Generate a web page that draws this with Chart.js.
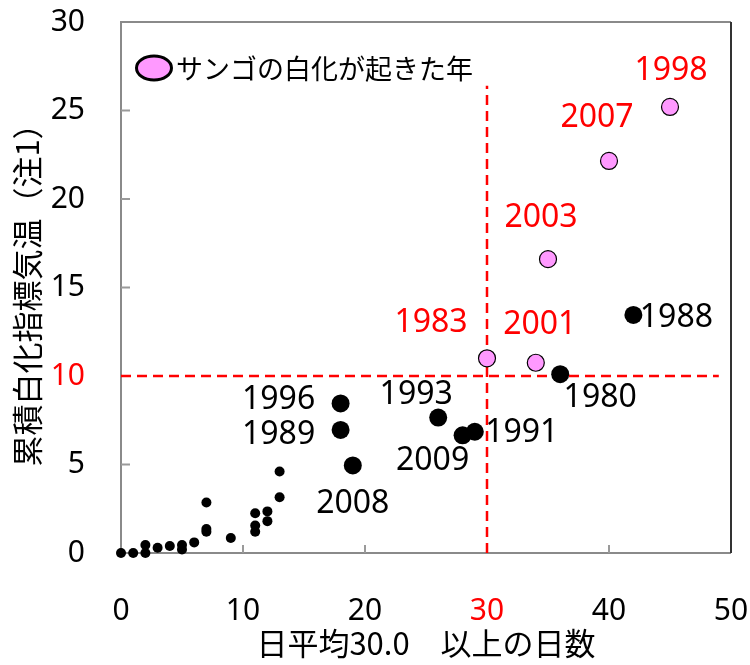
<!DOCTYPE html>
<html>
<head>
<meta charset="utf-8">
<script src="https://cdn.jsdelivr.net/npm/chart.js@4"></script>
<style>
html,body{margin:0;padding:0;background:#fff;}
</style>
</head>
<body>
<canvas id="c" width="750" height="665"></canvas>
<script>
// small black dots (no year label)
const smallX = [0, 1, 2, 2, 3, 4, 5, 5, 6, 7, 7, 7, 9, 11, 11, 11, 12, 12, 13, 13];
const smallY = [0, 0, 0, 0.45, 0.3, 0.4, 0.45, 0.2, 0.6, 1.35, 1.2, 2.85, 0.85, 2.25, 1.55, 1.2, 2.35, 1.8, 3.15, 4.6];

// labelled years without bleaching
const blackYears = ['1980', '1988', '1989', '1991', '1993', '1996', '2008', '2009'];
const blackX = [36, 42, 18, 29, 26, 18, 19, 28];
const blackY = [10.1, 13.45, 6.95, 6.85, 7.65, 8.45, 4.95, 6.65];

// years when coral bleaching happened
const pinkYears = ['1983', '1998', '2001', '2003', '2007'];
const pinkX = [30, 45, 34, 35, 40];
const pinkY = [11.0, 25.2, 10.75, 16.6, 22.15];

const thresholdX = 30;
const thresholdY = 10;
const xTicks = [0, 10, 20, 30, 40, 50];
const yTicks = [0, 5, 10, 15, 20, 25, 30];

const legendText = 'サンゴの白化が起きた年';
const xTitle = '日平均30.0　以上の日数';
const yTitle = '累積白化指標気温（注1）';

// label placement relative to the point (px)
const blackLabelShift = {
  '1980': [40, 24], '1988': [43, 3], '1989': [-62, 5], '1991': [47, 1],
  '1993': [-22, -23], '1996': [-62, -4], '2008': [0, 39], '2009': [-30, 26]
};
const pinkLabelShift = {
  '1983': [-56, -35], '1998': [1, -36], '2001': [4, -38], '2003': [-7, -41], '2007': [-12, -43]
};

const RED = '#ff0000';
const PINK = '#ff99ff';
const FONT = '"Noto Sans", "Noto Sans CJK JP", sans-serif';
const JFONT = '"Noto Sans CJK JP", "Noto Sans", sans-serif';

function pts(xs, ys) {
  return xs.map((v, i) => ({x: v, y: ys[i]}));
}

const overlay = {
  id: 'overlay',
  beforeDatasetsDraw(chart) {
    const {ctx, chartArea: a, scales: {x, y}} = chart;
    ctx.save();
    // frame
    ctx.setLineDash([]);
    ctx.lineWidth = 2;
    ctx.strokeStyle = '#8a8a8a';
    ctx.beginPath();
    ctx.moveTo(a.right, a.top); ctx.lineTo(a.left, a.top);
    ctx.lineTo(a.left, a.bottom); ctx.lineTo(a.right, a.bottom);
    ctx.stroke();
    ctx.strokeStyle = '#333';
    ctx.beginPath();
    ctx.moveTo(a.right, a.top); ctx.lineTo(a.right, a.bottom);
    ctx.stroke();
    // inward tick marks
    ctx.strokeStyle = '#9a9a9a';
    ctx.beginPath();
    y.ticks.forEach(t => {
      if (t.value <= 0 || t.value >= 30) return;
      const py = y.getPixelForValue(t.value);
      ctx.moveTo(a.left, py); ctx.lineTo(a.left + 9, py);
    });
    x.ticks.forEach(t => {
      if (t.value <= 0 || t.value >= 50) return;
      const px = x.getPixelForValue(t.value);
      ctx.moveTo(px, a.bottom); ctx.lineTo(px, a.bottom - 8);
    });
    ctx.stroke();
    // dashed threshold lines
    ctx.strokeStyle = RED;
    ctx.lineWidth = 2.5;
    ctx.setLineDash([10, 6]);
    ctx.beginPath();
    ctx.moveTo(x.getPixelForValue(0), y.getPixelForValue(thresholdY));
    ctx.lineTo(x.getPixelForValue(49), y.getPixelForValue(thresholdY));
    ctx.moveTo(x.getPixelForValue(thresholdX), y.getPixelForValue(0));
    ctx.lineTo(x.getPixelForValue(thresholdX), y.getPixelForValue(26.4));
    ctx.stroke();
    ctx.restore();
  },
  afterDatasetsDraw(chart) {
    const {ctx} = chart;
    ctx.save();
    ctx.font = '32px ' + FONT;
    ctx.textAlign = 'center';
    ctx.textBaseline = 'middle';
    const drawLabels = (idx, years, shifts, color) => {
      const meta = chart.getDatasetMeta(idx);
      ctx.fillStyle = color;
      years.forEach((yr, i) => {
        const el = meta.data[i];
        const s = shifts[yr];
        ctx.fillText(yr, el.x + s[0], el.y + s[1]);
      });
    };
    drawLabels(1, blackYears, blackLabelShift, '#000');
    drawLabels(2, pinkYears, pinkLabelShift, RED);
    // legend
    ctx.beginPath();
    ctx.ellipse(154, 68, 17.5, 12, 0, 0, Math.PI * 2);
    ctx.fillStyle = PINK;
    ctx.fill();
    ctx.lineWidth = 3;
    ctx.strokeStyle = '#000';
    ctx.stroke();
    ctx.fillStyle = '#000';
    ctx.textAlign = 'left';
    ctx.font = '27px ' + JFONT;
    ctx.fillText(legendText, 176, 69);
    ctx.restore();
  }
};

const chart = new Chart(document.getElementById('c'), {
  type: 'scatter',
  data: {
    datasets: [
      {data: pts(smallX, smallY), pointRadius: 5, backgroundColor: '#000', borderWidth: 0},
      {data: pts(blackX, blackY), pointRadius: 9, backgroundColor: '#000', borderWidth: 0},
      {data: pts(pinkX, pinkY), pointRadius: 8.5, backgroundColor: PINK, borderColor: '#000', borderWidth: 1.2}
    ]
  },
  options: {
    responsive: false,
    animation: false,
    clip: false,
    layout: {padding: {top: 22, right: 19, left: 0, bottom: 0}},
    plugins: {legend: {display: false}, tooltip: {enabled: false}},
    scales: {
      x: {
        min: 0, max: 50,
        afterBuildTicks: s => { s.ticks = xTicks.map(v => ({value: v})); },
        afterFit: s => { s.height = 112; s.paddingLeft = 0; s.paddingRight = 0; },
        grid: {display: false},
        border: {display: false},
        ticks: {
          padding: 32,
          font: {size: 30, family: FONT},
          color: c => c.tick.value === thresholdX ? RED : '#000'
        },
        title: {display: true, text: xTitle, font: {size: 31, family: JFONT}, color: '#000', padding: {top: 0, bottom: 3}}
      },
      y: {
        min: 0, max: 30,
        afterBuildTicks: s => { s.ticks = yTicks.map(v => ({value: v})); },
        afterFit: s => { s.width = 121; s.paddingTop = 0; s.paddingBottom = 0; },
        grid: {display: false},
        border: {display: false},
        ticks: {
          padding: 28,
          font: {size: 30, family: FONT},
          color: c => c.tick.value === thresholdY ? RED : '#000'
        },
        title: {display: true, text: yTitle, font: {size: 31, family: JFONT}, color: '#000', padding: {top: 9, bottom: 0}}
      }
    }
  },
  plugins: [overlay]
});
</script>
</body>
</html>
